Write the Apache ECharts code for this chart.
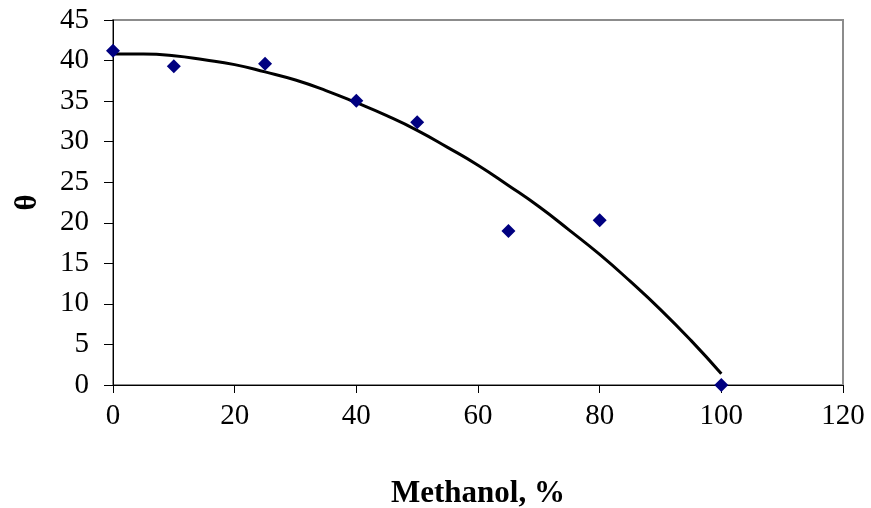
<!DOCTYPE html>
<html>
<head>
<meta charset="utf-8">
<script src="https://cdn.jsdelivr.net/npm/echarts@6/dist/echarts.min.js"></script>
<style>
  html, body { margin: 0; padding: 0; background: #fff; }
  #chart { width: 871px; height: 508px; }
</style>
</head>
<body>
<div id="chart"></div>
<script>
// Measured contact angle vs methanol content
const methanolPct = [0, 10, 25, 40, 50, 65, 80, 100];
const theta = [41.2, 39.3, 39.6, 35.05, 32.4, 19.0, 20.3, 0];

// Trend curve through the measurements
const trendX = [0, 5, 10, 15, 20, 25, 30, 35, 40, 45, 50, 55, 60, 65, 70, 75, 80, 85, 90, 95, 100];
const trendY = [40.8, 40.8, 40.6, 40.1, 39.5, 38.6, 37.6, 36.3, 34.8, 33.2, 31.4, 29.3, 27.1, 24.6, 22.0, 19.1, 16.1, 12.8, 9.3, 5.5, 1.4];

// Axis ticks
const xTicks = [0, 20, 40, 60, 80, 100, 120];
const yTicks = [0, 5, 10, 15, 20, 25, 30, 35, 40, 45];

const font = "'Liberation Serif', 'Times New Roman', serif";

const chart = echarts.init(document.getElementById('chart'), null, { renderer: 'canvas' });

chart.setOption({
  animation: false,
  backgroundColor: '#ffffff',
  grid: {
    left: 113, right: 28, top: 20, bottom: 123,
    containLabel: false,
    outerBoundsMode: 'none',
    show: true, borderColor: '#8c8c8c', borderWidth: 2, backgroundColor: 'transparent'
  },
  xAxis: {
    type: 'value',
    min: xTicks[0], max: xTicks[xTicks.length - 1], interval: xTicks[1] - xTicks[0],
    name: 'Methanol, %',
    nameLocation: 'middle',
    nameGap: 93,
    nameTextStyle: { fontFamily: font, fontWeight: 'bold', fontSize: 31, color: '#000' },
    axisLine: { show: true, onZero: false, lineStyle: { color: '#000', width: 1 } },
    axisTick: { show: true, inside: false, length: 8, lineStyle: { color: '#000' } },
    axisLabel: { fontFamily: font, fontSize: 29, color: '#000', margin: 17, hideOverlap: false },
    splitLine: { show: false }
  },
  yAxis: {
    type: 'value',
    min: yTicks[0], max: yTicks[yTicks.length - 1], interval: yTicks[1] - yTicks[0],
    name: 'θ',
    nameLocation: 'middle',
    nameRotate: 90,
    nameGap: 70,
    nameTextStyle: { fontFamily: font, fontWeight: 'bold', fontSize: 31, color: '#000' },
    axisLine: { show: true, onZero: false, lineStyle: { color: '#000', width: 1 } },
    axisTick: { show: true, inside: false, length: 9, lineStyle: { color: '#000' } },
    axisLabel: { fontFamily: font, fontSize: 29, color: '#000', margin: 24 },
    splitLine: { show: false }
  },
  series: [
    {
      type: 'line',
      data: trendX.map((x, i) => [x, trendY[i]]),
      smooth: true,
      showSymbol: false,
      lineStyle: { color: '#000', width: 3 },
      z: 2
    },
    {
      type: 'scatter',
      data: methanolPct.map((x, i) => [x, theta[i]]),
      symbol: 'diamond',
      symbolSize: 14,
      itemStyle: { color: '#000080', opacity: 1 },
      z: 3
    }
  ]
});
</script>
</body>
</html>
